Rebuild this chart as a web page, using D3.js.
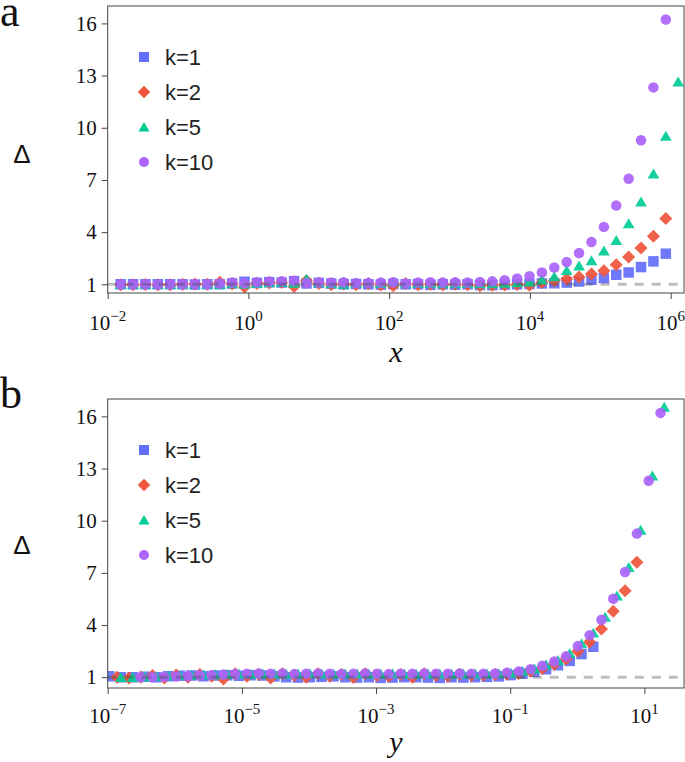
<!DOCTYPE html>
<html><head><meta charset="utf-8">
<script src="https://cdn.jsdelivr.net/npm/d3@7"></script>
<style>body{margin:0;background:#fff}svg{display:block}</style>
</head><body>
<svg id="c" width="685" height="762"></svg>
<script>
// ---------- DATA ----------
const seriesNames = ["k=1", "k=2", "k=5", "k=10"];
const seriesColors = ["#636efa", "#ef553b", "#00cc96", "#ab63fa"];
const seriesSymbols = ["square", "diamond", "triangle", "circle"];

// panel a : x grid
const xA = [0.01528, 0.02291, 0.03436, 0.05152, 0.07727, 0.1159, 0.1738, 0.2607, 0.3911, 0.5866,
  0.8799, 1.320, 1.980, 2.970, 4.455, 6.683, 10.02, 15.04, 22.55, 33.83,
  50.75, 76.12, 114.2, 171.3, 256.9, 385.4, 578.0, 867.0, 1301, 1951,
  2926, 4390, 6584, 9877, 14815, 22222, 33333, 50000, 75000, 112500,
  168750, 253125, 379688, 569531, 854297, 1281445];
const aK1 = [1.0, 1.0, 1.0, 1.0, 1.0, 1.0, 0.99, 1.0, 1.0, 1.04, 1.15, 1.08, 1.12, 1.1, 1.18, 1.05, 1.08, 1.04,
  1.0, 1.02, 1.0, 0.98, 1.02, 1.0, 1.0, 0.97, 1.0, 0.98, 1.0, 0.96, 0.95, 0.98, 1.0, 1.02, 1.05, 1.06,
  1.10, 1.16, 1.26, 1.36, 1.55, 1.68, 1.99, 2.32, 2.76];
const aK2 = [0.98, 0.97, 0.99, 0.98, 0.97, 1.0, 1.02, 1.0, 1.12, 1.02, 0.85, 1.05, 1.08, 1.1, 0.88, 1.2, 1.05,
  0.98, 1.02, 0.98, 1.05, 0.96, 0.92, 1.05, 0.98, 1.0, 0.96, 1.0, 0.98, 0.92, 0.95, 0.96, 0.99, 0.94,
  1.10, 1.20, 1.30, 1.42, 1.59, 1.78, 2.13, 2.57, 3.09, 3.76, 4.78];
const aK5 = [1.0, 1.0, 1.0, 1.0, 1.0, 1.0, 1.0, 1.0, 1.0, 1.05, 1.02, 1.06, 1.1, 1.12, 1.08, 1.3, 1.1, 1.05,
  1.0, 1.08, 1.12, 1.06, 1.15, 1.04, 1.06, 1.08, 1.05, 1.04, 1.06, 1.05, 1.04, 1.08, 1.1,
  1.15, 1.26, 1.45, 1.80, 2.07, 2.37, 2.93, 3.53, 4.49, 5.74, 7.36, 9.53, 12.64];
const aK10 = [1.0, 1.0, 1.0, 0.99, 1.0, 1.0, 1.0, 1.01, 1.05, 1.1, 1.06, 1.12, 1.16, 1.18, 1.2, 1.06, 1.12,
  1.1, 1.12, 1.06, 1.08, 1.1, 1.12, 1.05, 1.1, 1.12, 1.1, 1.12, 1.1, 1.13, 1.17,
  1.24, 1.33, 1.46, 1.68, 1.97, 2.28, 2.80, 3.43, 4.30, 5.53, 7.07, 9.28, 12.32, 16.22];

// panel b : two x grids
const xP = [1.38e-7, 2.07e-7, 3.11e-7, 4.66e-7, 7.0e-7, 1.05e-6, 1.57e-6, 2.36e-6, 3.54e-6, 5.31e-6,
  7.96e-6, 1.19e-5, 1.79e-5, 2.69e-5, 4.03e-5, 6.05e-5, 9.07e-5, 1.36e-4, 2.04e-4, 3.06e-4,
  4.59e-4, 6.88e-4, 1.032e-3, 1.549e-3, 2.323e-3, 3.484e-3, 5.226e-3, 7.839e-3, 0.01176, 0.01764,
  0.02646, 0.03969, 0.05953, 0.0893, 0.134, 0.2009, 0.3014, 0.4521, 0.6781, 1.017,
  1.526, 2.29, 3.434, 5.152, 7.727, 11.59, 17.38];
const xG = [1.05e-7, 1.57e-7, 2.35e-7, 3.53e-7, 5.29e-7, 7.95e-7, 1.19e-6, 1.78e-6, 2.68e-6, 4.02e-6,
  6.03e-6, 9.03e-6, 1.35e-5, 2.03e-5, 3.05e-5, 4.57e-5, 6.87e-5, 1.03e-4, 1.54e-4, 2.32e-4,
  3.47e-4, 5.21e-4, 7.81e-4, 1.171e-3, 1.758e-3, 2.637e-3, 3.954e-3, 5.932e-3, 8.898e-3, 0.01335,
  0.02002, 0.03003, 0.04505, 0.06757, 0.1014, 0.1521, 0.228, 0.3421, 0.5131, 0.7697,
  1.154, 1.732, 2.60, 3.90, 5.85, 8.77, 13.15, 19.73];
const bK1 = [1.05, 1.0, 1.0, 1.02, 1.0, 1.05, 1.08, 1.1, 1.05, 1.1, 1.12, 1.08, 1.12, 1.1, 1.05, 1.0, 0.98,
  1.0, 1.02, 1.05, 1.0, 0.98, 1.0, 0.96, 0.98, 1.0, 1.0, 0.98, 0.96, 1.0, 0.98, 1.0, 1.02, 1.05,
  1.12, 1.2, 1.31, 1.46, 1.69, 1.94, 2.33, 2.75];
const bK2 = [1.0, 0.95, 1.0, 1.1, 0.95, 1.12, 1.0, 1.15, 1.05, 0.9, 1.2, 1.05, 1.15, 0.95, 1.2, 1.1, 1.0,
  1.2, 1.05, 1.15, 0.98, 1.2, 1.1, 1.05, 1.15, 1.0, 1.2, 1.1, 1.05, 1.15, 1.1, 1.12, 1.15, 1.18,
  1.22, 1.35, 1.50, 1.75, 2.05, 2.50, 3.03, 3.77, 4.79, 5.97, 7.61];
const bK5 = [1.0, 1.0, 1.02, 1.05, 1.08, 1.1, 1.12, 1.15, 1.15, 1.18, 1.2, 1.18, 1.2, 1.2, 1.18, 1.2, 1.22,
  1.2, 1.18, 1.2, 1.2, 1.18, 1.2, 1.22, 1.2, 1.18, 1.2, 1.2, 1.18, 1.2, 1.2, 1.2, 1.22,
  1.25, 1.36, 1.50, 1.73, 1.98, 2.37, 2.94, 3.55, 4.46, 5.69, 7.32, 9.47, 12.58, 16.54];
const bK10 = [1.0, 1.0, 1.02, 1.04, 1.06, 1.1, 1.12, 1.15, 1.18, 1.2, 1.22, 1.2, 1.22, 1.18, 1.2, 1.22,
  1.2, 1.18, 1.2, 1.22, 1.2, 1.18, 1.2, 1.2, 1.22, 1.2, 1.2, 1.22, 1.2, 1.2, 1.22,
  1.25, 1.33, 1.46, 1.66, 1.90, 2.20, 2.79, 3.42, 4.30, 5.51, 7.05, 9.26, 12.30, 16.20];

const yTickValues = [1, 4, 7, 10, 13, 16];
const xTicksA = [-2, 0, 2, 4, 6];   // exponents of ten
const xTicksB = [-7, -5, -3, -1, 1];

// ---------- DRAW ----------
const svg = d3.select("#c");
const serif = "'Liberation Serif','Times New Roman',serif";
const sans = "'Liberation Sans',Arial,sans-serif";

function symPath(type, s) {
  if (type === "square") { const h = s / 2; return `M${-h},${-h}H${h}V${h}H${-h}Z`; }
  if (type === "diamond") { const h = s * 0.62; return `M0,${-h}L${h},0L0,${h}L${-h},0Z`; }
  if (type === "triangle") { const w = s * 0.56, hh = s * 0.5; return `M0,${-hh}L${w},${hh*0.9}L${-w},${hh*0.9}Z`; }
  const r = s / 2; return `M${r},0A${r},${r} 0 1,1 ${-r},0A${r},${r} 0 1,1 ${r},0Z`;
}

const panels = [
  { id: "a", letterY: 26, top: 6, bottom: 293, xDomain: [1e-2, Math.pow(10, 6.19)], yDomain: [0.5, 17],
    xTicks: xTicksA, xLabel: "x", xLabelY: 362, tickLabelY: 330, legendY: 57, deltaY: 154,
    series: [[xA.slice(0, 45), aK1], [xA.slice(0, 45), aK2], [xA, aK5], [xA.slice(0, 45), aK10]] },
  { id: "b", letterY: 408, top: 399, bottom: 688, xDomain: [1e-7, Math.pow(10, 1.59)], yDomain: [0.38, 17],
    xTicks: xTicksB, xLabel: "y", xLabelY: 752, tickLabelY: 723, legendY: 450, deltaY: 545,
    series: [[xG.slice(0, 42), bK1], [xP.slice(0, 45), bK2], [xG.slice(1), bK5], [xP.slice(2), bK10]] }
];

const left = 107.7, right = 684;

panels.forEach((p, pi) => {
  const x = d3.scaleLog().domain(p.xDomain).range([left, right]);
  const y = d3.scaleLinear().domain(p.yDomain).range([p.bottom, p.top]);
  const g = svg.append("g");

  g.append("clipPath").attr("id", "clip" + pi).append("rect")
    .attr("x", left).attr("y", p.top).attr("width", right - left).attr("height", p.bottom - p.top);

  // markers
  const mg = g.append("g").attr("clip-path", `url(#clip${pi})`);
  p.series.forEach(([xs, ys], si) => {
    const pts = ys.map((v, i) => [xs[i], v]);
    mg.append("g").selectAll("path").data(pts).join("path")
      .attr("d", symPath(seriesSymbols[si], 10.5))
      .attr("transform", d => `translate(${x(d[0])},${y(d[1])})`)
      .attr("fill", seriesColors[si]).attr("fill-opacity", 0.92);
  });

  // dashed reference line at 1
  g.append("line").attr("x1", left).attr("x2", right).attr("y1", y(1)).attr("y2", y(1))
    .attr("stroke", "rgba(70,70,70,0.35)").attr("stroke-width", 3).attr("stroke-dasharray", "9,8");

  // frame
  g.append("rect").attr("x", left).attr("y", p.top).attr("width", right - left).attr("height", p.bottom - p.top)
    .attr("fill", "none").attr("stroke", "#444").attr("stroke-width", 1);

  // y axis
  const ya = d3.axisLeft(y).tickValues(yTickValues).tickSize(6).tickPadding(5).tickFormat(d3.format("d"));
  const yg = g.append("g").attr("transform", `translate(${left},0)`).call(ya);
  yg.select(".domain").remove();
  yg.selectAll("line").attr("stroke", "#444");
  yg.selectAll("text").attr("font-family", serif).attr("font-size", 21).attr("fill", "#111");

  // x axis
  const xa = d3.axisBottom(x).tickValues(p.xTicks.map(e => Math.pow(10, e))).tickSize(6).tickFormat("");
  const xg = g.append("g").attr("transform", `translate(0,${p.bottom})`).call(xa);
  xg.select(".domain").remove();
  xg.selectAll("line").attr("stroke", "#444");
  p.xTicks.forEach(e => {
    const t = g.append("text").attr("x", x(Math.pow(10, e))).attr("y", p.tickLabelY)
      .attr("text-anchor", "middle").attr("font-family", serif).attr("font-size", 21).attr("fill", "#111");
    t.append("tspan").text("10");
    t.append("tspan").attr("dy", -9).attr("font-size", 15).text(e < 0 ? "\u2212" + (-e) : String(e));
  });

  // axis titles
  g.append("text").attr("x", 396).attr("y", p.xLabelY).attr("text-anchor", "middle")
    .attr("font-family", serif).attr("font-style", "italic").attr("font-size", 30).attr("fill", "#111").text(p.xLabel);
  g.append("text").attr("x", 22).attr("y", p.deltaY).attr("text-anchor", "middle")
    .attr("dy", "0.35em").attr("font-family", sans).attr("font-size", 26).attr("fill", "#111").text("\u0394");

  // panel letter
  g.append("text").attr("x", 0).attr("y", p.letterY).attr("font-family", serif).attr("font-size", 44)
    .attr("fill", "#111").text(p.id);

  // legend
  seriesNames.forEach((name, si) => {
    const ly = p.legendY + si * 35;
    g.append("path").attr("d", symPath(seriesSymbols[si], 10)).attr("transform", `translate(144,${ly})`)
      .attr("fill", seriesColors[si]);
    g.append("text").attr("x", 165).attr("y", ly).attr("dy", "0.36em").attr("font-family", sans)
      .attr("font-size", 22).attr("fill", "#222").text(name);
  });
});
</script>
</body></html>
